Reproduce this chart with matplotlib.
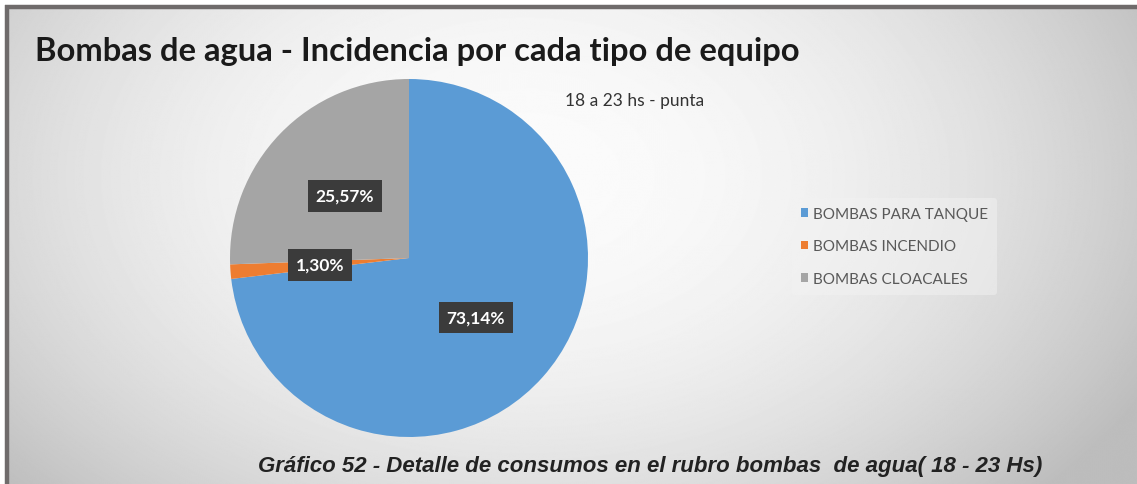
import numpy as np
import matplotlib
matplotlib.use("Agg")
import matplotlib.pyplot as plt

# data
categorias = ["BOMBAS PARA TANQUE", "BOMBAS INCENDIO", "BOMBAS CLOACALES"]
porcentajes = [73.14, 1.30, 25.57]
colores = ["#5B9BD5", "#ED7D31", "#A5A5A5"]

titulo = "Bombas de agua - Incidencia por cada tipo de equipo"
subtitulo = "18 a 23 hs - punta"
pie_grafico = "Gráfico 52 - Detalle de consumos en el rubro bombas  de agua( 18 - 23 Hs)"

W, H = 1137, 485
fig = plt.figure(figsize=(W / 100, H / 100), dpi=100)
fig.patch.set_facecolor("white")

# background panel with soft radial gradient and dark frame (top/left)
bg = fig.add_axes([0, 0, 1, 1])
bg.set_xlim(0, W)
bg.set_ylim(H, 0)
bg.axis("off")
yy, xx = np.mgrid[0:H, 0:W]
r = np.sqrt(((xx - 520) / 620.0) ** 2 + ((yy - 170) / 420.0) ** 2)
grad = np.clip(0.985 - 0.19 * r ** 2, 0.74, 1.0)
bg.imshow(grad, cmap="gray", vmin=0, vmax=1, extent=(9, W, H, 10),
          interpolation="bilinear", aspect="auto", zorder=0)
bg.plot([5, W], [8, 8], color="#6f6b6b", lw=3.2, solid_capstyle="butt", zorder=2)
bg.plot([7, 7], [6, H], color="#6f6b6b", lw=3.2, solid_capstyle="butt", zorder=2)

# pie
cx, cy, rad = 409, 259, 179
ax = fig.add_axes([(cx - rad) / W, 1 - (cy + rad) / H, 2 * rad / W, 2 * rad / H])
wedges, _ = ax.pie(porcentajes, colors=colores, startangle=90, counterclock=False,
                   radius=1, wedgeprops=dict(linewidth=0))
ax.set_xlim(-1, 1)
ax.set_ylim(-1, 1)
ax.axis("off")

for w, v in zip(wedges, porcentajes):
    ang = np.deg2rad((w.theta1 + w.theta2) / 2)
    ax.text(0.5 * np.cos(ang), 0.5 * np.sin(ang), f"{v:.2f}%".replace(".", ","),
            ha="center", va="center", color="white", fontsize=12.5,
            fontweight="bold", family="Lato",
            bbox=dict(boxstyle="square,pad=0.45", fc="#3b3b3b", ec="none"))

# texts
fig.text(35 / W, 1 - 52 / H, titulo, fontsize=23.6, fontweight="bold",
         family="Lato", color="#1a1a1a", va="center", ha="left")
fig.text(565 / W, 1 - 101 / H, subtitulo, fontsize=12.5, family="Lato",
         color="#333333", va="center", ha="left")
fig.text(258 / W, 1 - 467 / H, pie_grafico, fontsize=16, fontweight="bold",
         fontstyle="italic", family="Liberation Sans", color="#222222",
         va="center", ha="left")

leg = fig.legend(wedges, categorias, loc="upper left",
                 bbox_to_anchor=(784 / W, 1 - 191 / H), frameon=True,
                 handlelength=0.5, handleheight=0.5,
                 handletextpad=0.3, labelspacing=1.22, borderpad=0.6,
                 prop=dict(family="Lato", size=11))
leg.get_frame().set_facecolor("#f2f2f2")
leg.get_frame().set_edgecolor("none")
leg.get_frame().set_alpha(0.5)
for t in leg.get_texts():
    t.set_color("#595959")

fig.savefig("out.png", dpi=100)
